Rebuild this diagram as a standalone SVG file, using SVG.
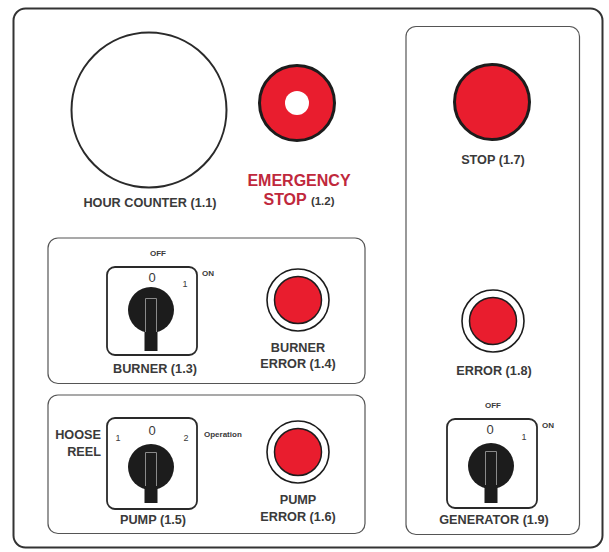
<svg xmlns="http://www.w3.org/2000/svg" width="609" height="552" viewBox="0 0 609 552">
<style>
.frame{fill:#fff;stroke:#333;stroke-width:2}
.panel{fill:none;stroke:#555;stroke-width:1.2}
.box{fill:#fff;stroke:#2a2a2a;stroke-width:1.8}
.knob{fill:#1c1c1c}
.lbl{font-family:"Liberation Sans",Arial,sans-serif;font-weight:bold;font-size:12.7px;fill:#3a3a3a;text-anchor:middle}
.sm{font-family:"Liberation Sans",Arial,sans-serif;font-weight:bold;font-size:8px;fill:#3a3a3a}
.num{font-family:"Liberation Sans",Arial,sans-serif;font-size:13px;fill:#3a3a3a;text-anchor:middle}
.num1{font-family:"Liberation Sans",Arial,sans-serif;font-size:9px;fill:#3a3a3a;text-anchor:middle}
.red{fill:#e91d2e;stroke:#1c1c1c;stroke-width:1.5}
.ring{fill:#fff;stroke:#1c1c1c;stroke-width:1.6}
.em{font-family:"Liberation Sans",Arial,sans-serif;font-weight:bold;font-size:16px;fill:#c0283c;text-anchor:middle}
</style>
<rect class="frame" x="13.5" y="8.5" width="589" height="539" rx="12"/>
<rect class="panel" x="406" y="26.5" width="173.5" height="508" rx="10"/>
<rect class="panel" x="48" y="238" width="317" height="145.5" rx="10"/>
<rect class="panel" x="48" y="395" width="317" height="138.5" rx="10"/>

<g id="hour-counter">
<circle cx="149" cy="110" r="77.5" fill="#fff" stroke="#2a2a2a" stroke-width="2"/>
<text class="lbl" x="150" y="207">HOUR COUNTER (1.1)</text>
</g>

<g id="emergency-stop">
<circle cx="297" cy="103" r="37.5" fill="#e91d2e" stroke="#1c1c1c" stroke-width="3"/>
<circle cx="297" cy="103" r="12" fill="#fff"/>
<text class="em" x="299" y="186">EMERGENCY</text>
<text class="em" x="299" y="205">STOP <tspan style="font-size:11.5px;fill:#3a3a3a">(1.2)</tspan></text>
</g>

<g id="stop">
<circle cx="492" cy="102" r="37.5" fill="#e91d2e" stroke="#1c1c1c" stroke-width="3"/>
<text class="lbl" x="493" y="164">STOP (1.7)</text>
</g>

<g id="burner">
<rect class="box" x="107" y="267" width="90" height="88" rx="8"/>
<circle class="knob" cx="151" cy="310" r="23"/>
<rect class="knob" x="144.5" y="298" width="13" height="53"/>
<path d="M145.5,332 V298.5 H156.5 V332" fill="none" stroke="#8a8a8a" stroke-width="1"/>
<text class="num" x="152" y="282">0</text>
<text class="num1" x="185" y="287">1</text>
<text class="sm" x="158" y="256" text-anchor="middle">OFF</text>
<text class="sm" x="202" y="276">ON</text>
<text class="lbl" x="155" y="373">BURNER (1.3)</text>
</g>

<g id="burner-error">
<circle class="ring" cx="298" cy="300" r="31"/>
<circle class="red" cx="298" cy="300" r="23.5"/>
<text class="lbl" x="298" y="352">BURNER</text>
<text class="lbl" x="298" y="368">ERROR (1.4)</text>
</g>

<g id="pump">
<rect class="box" x="107" y="418" width="90" height="91" rx="8"/>
<circle class="knob" cx="151" cy="467" r="23"/>
<rect class="knob" x="144.5" y="452" width="13" height="51"/>
<path d="M145.5,486 V452.5 H156.5 V486" fill="none" stroke="#8a8a8a" stroke-width="1"/>
<text class="num" x="152" y="435">0</text>
<text class="num1" x="118" y="441">1</text>
<text class="num1" x="186" y="441">2</text>
<text class="lbl" x="101" y="439" style="text-anchor:end">HOOSE</text>
<text class="lbl" x="101" y="456" style="text-anchor:end">REEL</text>
<text class="sm" x="204" y="437">Operation</text>
<text class="lbl" x="153" y="524">PUMP (1.5)</text>
</g>

<g id="pump-error">
<circle class="ring" cx="298" cy="452" r="31"/>
<circle class="red" cx="298" cy="452" r="23.5"/>
<text class="lbl" x="298" y="504">PUMP</text>
<text class="lbl" x="298" y="521">ERROR (1.6)</text>
</g>

<g id="error">
<circle class="ring" cx="493" cy="321" r="31"/>
<circle class="red" cx="493" cy="321" r="23.5"/>
<text class="lbl" x="494" y="375">ERROR (1.8)</text>
</g>

<g id="generator">
<rect class="box" x="447" y="419" width="90" height="89" rx="8"/>
<circle class="knob" cx="491" cy="466" r="23"/>
<rect class="knob" x="484.5" y="451" width="13" height="52"/>
<path d="M485.5,485 V451.5 H496.5 V485" fill="none" stroke="#8a8a8a" stroke-width="1"/>
<text class="num" x="490" y="434">0</text>
<text class="num1" x="524" y="440">1</text>
<text class="sm" x="493" y="408" text-anchor="middle">OFF</text>
<text class="sm" x="542" y="428">ON</text>
<text class="lbl" x="494" y="524">GENERATOR (1.9)</text>
</g>

<g id="connectors"></g>
</svg>
